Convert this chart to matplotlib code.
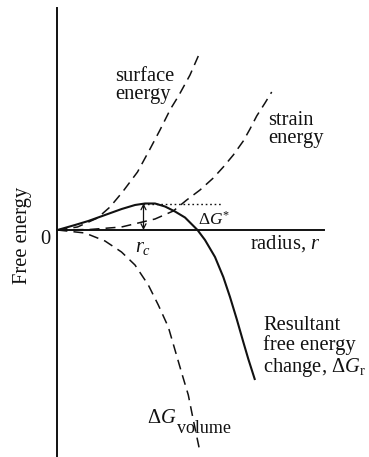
import matplotlib
matplotlib.use("Agg")
import matplotlib.pyplot as plt

# Free-energy contributions versus nucleus radius r (arbitrary units)
surface_r = [0, 0.20, 0.40, 0.525, 0.65, 0.80, 0.925, 1.025, 1.13, 1.21, 1.325, 1.408]
surface_E = [0, 0.03, 0.12, 0.23, 0.38, 0.58, 0.81, 1.00, 1.21, 1.34, 1.55, 1.74]

strain_r = [0, 0.32, 0.64, 0.975, 1.158, 1.292, 1.425, 1.558, 1.658, 1.758, 1.858,
            1.925, 1.992, 2.075, 2.142]
strain_E = [0, 0.005, 0.03, 0.11, 0.19, 0.30, 0.40, 0.52, 0.63, 0.75, 0.89,
            1.01, 1.14, 1.27, 1.38]

volume_r = [0, 0.275, 0.475, 0.64, 0.775, 0.908, 1.008, 1.108, 1.175, 1.242, 1.308,
            1.358, 1.425]
volume_E = [0, -0.03, -0.11, -0.22, -0.35, -0.55, -0.75, -0.97, -1.20, -1.43, -1.65,
            -1.90, -2.22]

resultant_r = [0, 0.175, 0.308, 0.475, 0.642, 0.775, 0.875, 0.975, 1.075, 1.175,
               1.275, 1.34, 1.40, 1.475, 1.575, 1.658, 1.725, 1.792, 1.858, 1.908,
               1.975]
resultant_E = [0, 0.05, 0.09, 0.15, 0.21, 0.25, 0.265, 0.265, 0.235, 0.185,
               0.125, 0.06, 0, -0.10, -0.27, -0.47, -0.67, -0.89, -1.12, -1.29,
               -1.50]

r_c = 0.86          # critical radius
G_star = 0.265      # activation barrier
barrier_end = 1.642 # end of the dotted barrier level
r_axis_end = 2.665
E_axis = (-2.27, 2.22)

plt.rcParams["font.family"] = ["Liberation Serif", "DejaVu Serif"]
plt.rcParams["mathtext.fontset"] = "custom"
plt.rcParams["mathtext.rm"] = "Liberation Serif"
plt.rcParams["mathtext.it"] = "Liberation Serif:italic"

ink = "#111111"
fs = 14.8

fig = plt.figure(figsize=(3.69, 4.57), dpi=100)
ax = fig.add_axes([0, 0, 1, 1])
ax.set_xlim(-0.575, 3.115)
ax.set_ylim(-2.27, 2.30)

# axes through the origin
for side in ("top", "right"):
    ax.spines[side].set_visible(False)
ax.spines["left"].set_position(("data", 0))
ax.spines["bottom"].set_position(("data", 0))
ax.spines["left"].set_bounds(*E_axis)
ax.spines["bottom"].set_bounds(0, r_axis_end)
for side in ("left", "bottom"):
    ax.spines[side].set_linewidth(1.4)
    ax.spines[side].set_color(ink)

ax.set_xticks([r_c])
ax.set_xticklabels([r"$r_c$"], fontsize=fs)
ax.set_yticks([0])
ax.set_yticklabels(["0"], fontsize=fs, va="top")
ax.tick_params(axis="x", length=0, pad=6, colors=ink)
ax.tick_params(axis="y", length=0, pad=5, colors=ink)

dash = (0, (6.5, 4.0))
ax.plot(surface_r, surface_E, color=ink, lw=1.1, ls=dash)
ax.plot(strain_r, strain_E, color=ink, lw=1.1, ls=dash)
ax.plot(volume_r, volume_E, color=ink, lw=1.1, ls=dash)
ax.plot(resultant_r, resultant_E, color=ink, lw=1.5, solid_capstyle="butt",
        solid_joinstyle="round")

# barrier height
ax.hlines(G_star, r_c, barrier_end, colors=ink, lw=1.0, linestyles=(0, (1.2, 2.0)))
ax.annotate("", xy=(r_c, G_star), xytext=(r_c, 0),
            arrowprops=dict(arrowstyle="<->,head_length=0.35,head_width=0.18",
                            color=ink, lw=0.9, shrinkA=0, shrinkB=0))

ax.text(1.41, 0.05, r"$\Delta G^{*}$", fontsize=12.5, color=ink, ha="left", va="baseline")
ax.text(1.925, -0.19, r"radius, $r$", fontsize=fs, color=ink, ha="left", va="baseline")
ax.text(0.575, 1.63, "surface\nenergy", fontsize=fs, color=ink, ha="left", va="top",
        linespacing=0.95)
ax.text(2.105, 1.19, "strain\nenergy", fontsize=fs, color=ink, ha="left", va="top",
        linespacing=0.95)
ax.text(2.055, -0.855, "Resultant\nfree energy\nchange, $\\Delta G_\\mathrm{r}$",
        fontsize=fs, color=ink, ha="left", va="top", linespacing=1.05)
ax.text(0.90, -1.93, r"$\Delta G$", fontsize=fs, color=ink, ha="left", va="baseline")
ax.text(1.195, -2.03, "volume", fontsize=13, color=ink, ha="left", va="baseline")
ax.text(-0.345, -0.05, "Free energy", fontsize=fs, color=ink, rotation=90,
        ha="center", va="center")

fig.savefig("out.png", dpi=100, facecolor="white")
